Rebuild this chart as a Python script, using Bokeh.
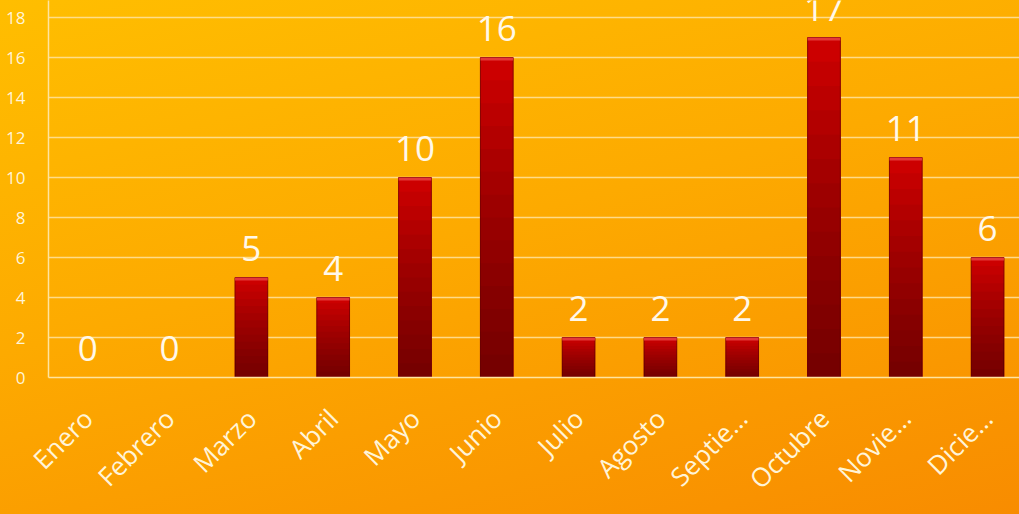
import numpy as np
from math import pi
from bokeh.plotting import figure
from bokeh.models import FixedTicker, Range1d, ColumnDataSource
from bokeh.embed import file_html
from bokeh.resources import INLINE
from bokeh.core.properties import value

months = ["Enero", "Febrero", "Marzo", "Abril", "Mayo", "Junio", "Julio",
          "Agosto", "Septie…", "Octubre", "Novie…", "Dicie…"]
counts = [0, 0, 5, 4, 10, 16, 2, 2, 2, 17, 11, 6]
y_ticks = [0, 2, 4, 6, 8, 10, 12, 14, 16, 18]

FONT = "Open Sans"
xs = list(range(len(months)))
counts_arr = np.array(counts, dtype=float)

p = figure(width=1019, height=514, output_backend="svg", toolbar_location=None,
           x_range=Range1d(-0.48, 11.39), y_range=Range1d(0, 18.85),
           min_border_left=48, min_border_right=0, min_border_top=0,
           min_border_bottom=137)
p.background_fill_color = None
p.border_fill_color = None
p.outline_line_color = None
p.styles = {"background": "linear-gradient(165deg, #FFBE00 0%, #FDAA00 45%, #F88C00 100%)"}

# bars: base plus darkening layers for a vertical gradient
src = ColumnDataSource(dict(x=xs, top=counts, label=[str(c) for c in counts]))
p.vbar(x="x", top="top", width=0.4, source=src, fill_color="#CC0000",
       line_color="#8A0000", line_width=1)
N = 14
for k in range(1, N):
    p.vbar(x=xs, top=list(counts_arr * (1 - k / N)), width=0.4,
           fill_color="#200000", fill_alpha=0.05, line_color=None)
# top highlight
p.vbar(x=xs, top=counts, bottom=list(np.maximum(counts_arr - 0.15, 0)), width=0.4,
       fill_color="#F05050", fill_alpha=[0.7 if c > 0 else 0 for c in counts],
       line_color=None)

p.text(x="x", y="top", text="label", source=src, text_align="center",
       text_baseline="bottom", y_offset=-17, text_color="#FFF8EA",
       text_font=value(FONT), text_font_size="35px")

# axes
p.yaxis.ticker = FixedTicker(ticks=y_ticks)
p.xaxis.ticker = FixedTicker(ticks=xs)
p.xaxis.major_label_overrides = {i: m for i, m in enumerate(months)}
p.xaxis.major_label_orientation = pi / 4
for ax in (p.xaxis, p.yaxis):
    ax.axis_line_color = "#FFE4A0"
    ax.axis_line_width = 1.5
    ax.major_tick_line_color = None
    ax.minor_tick_line_color = None
    ax.major_label_text_color = "#FFF4D8"
    ax.major_label_text_font = FONT
p.yaxis.major_label_text_font_size = "17px"
p.yaxis.major_label_standoff = 17
p.xaxis.major_label_text_font_size = "26px"
p.xaxis.major_label_standoff = 30

p.xgrid.grid_line_color = None
p.ygrid.ticker = FixedTicker(ticks=y_ticks)
p.ygrid.grid_line_color = "#FFE3A0"
p.ygrid.grid_line_alpha = 0.85
p.ygrid.grid_line_width = 1.5

open("out.html", "w").write(file_html(p, INLINE))
